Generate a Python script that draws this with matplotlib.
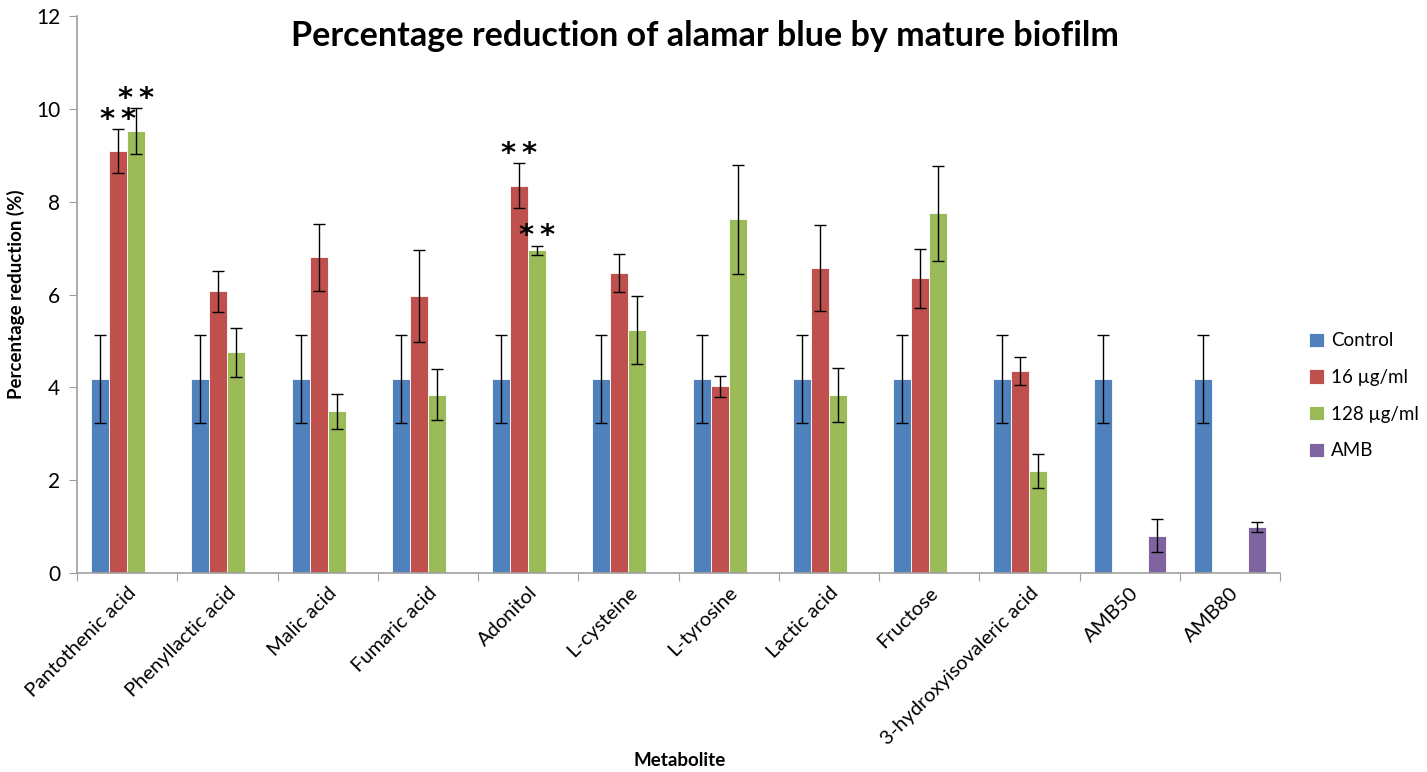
import matplotlib.pyplot as plt
import numpy as np

plt.rcParams['font.family'] = ['Lato', 'DejaVu Sans']

metabolites = ['Pantothenic acid', 'Phenyllactic acid', 'Malic acid', 'Fumaric acid',
               'Adonitol', 'L-cysteine', 'L-tyrosine', 'Lactic acid', 'Fructose',
               '3-hydroxyisovaleric acid', 'AMB50', 'AMB80']

control = [4.17] * 12
control_err = [0.95] * 12

low_dose = [9.09, 6.07, 6.80, 5.97, 8.35, 6.47, 4.02, 6.57, 6.35, 4.35, np.nan, np.nan]
low_err = [0.48, 0.44, 0.73, 1.00, 0.48, 0.41, 0.23, 0.92, 0.64, 0.30, np.nan, np.nan]

high_dose = [9.53, 4.75, 3.48, 3.84, 6.95, 5.23, 7.62, 3.83, 7.75, 2.20, np.nan, np.nan]
high_err = [0.49, 0.52, 0.37, 0.55, 0.10, 0.73, 1.18, 0.58, 1.02, 0.37, np.nan, np.nan]

amb = [np.nan] * 10 + [0.80, 0.99]
amb_err = [np.nan] * 10 + [0.36, 0.11]

# significance marks: (group index, series index)
significant = [(0, 1), (0, 2), (4, 1), (4, 2)]

series = [
    ('Control', control, control_err, '#4F81BD'),
    ('16 µg/ml', low_dose, low_err, '#C0504D'),
    ('128 µg/ml', high_dose, high_err, '#9BBB59'),
    ('AMB', amb, amb_err, '#8064A2'),
]

fig = plt.figure(figsize=(14.27, 7.72), dpi=100)
ax = fig.add_axes([0.054, 0.258, 0.843, 0.721])

x = np.arange(len(metabolites))
width = 0.18
offsets = (np.arange(4) - 1.5) * width

for i, (name, vals, errs, color) in enumerate(series):
    ax.bar(x + offsets[i], vals, width, color=color, edgecolor='white', linewidth=0.6,
           label=name, zorder=2)
    ax.errorbar(x + offsets[i], vals, yerr=errs, fmt='none', ecolor='black',
                elinewidth=1, capsize=4, capthick=1, zorder=3)

for g, s in significant:
    vals, errs = series[s][1], series[s][2]
    ax.text(x[g] + offsets[s], vals[g] + errs[g] - 0.1, '*\u2009*', ha='center',
            va='bottom', fontsize=21, fontweight='bold', family='DejaVu Sans')

ax.set_xlim(-0.5, len(metabolites) - 0.5)
ax.set_ylim(0, 12)
ax.set_yticks(np.arange(0, 13, 2))
ax.set_xticks(np.arange(-0.5, len(metabolites), 1), minor=False)
ax.set_xticklabels([])
ax.set_xticks(x, minor=True)
ax.set_xticklabels(metabolites, minor=True, rotation=45, ha='right',
                   rotation_mode='anchor', fontsize=14.5)
ax.tick_params(axis='x', which='minor', length=0, pad=8)
ax.tick_params(axis='x', which='major', length=6, color='#A0A0A0')
ax.tick_params(axis='y', length=6, color='#A0A0A0', labelsize=15, pad=6)

for side in ['top', 'right']:
    ax.spines[side].set_visible(False)
for side in ['left', 'bottom']:
    ax.spines[side].set_color('#A0A0A0')
    ax.spines[side].set_linewidth(1.2)

fig.text(0.494, 0.953, 'Percentage reduction of alamar blue by mature biofilm',
         ha='center', va='center', fontsize=24.6, fontweight='bold')
ax.set_ylabel('Percentage reduction (%)', fontsize=13.5, fontweight='bold', labelpad=8)
fig.text(0.476, 0.004, 'Metabolite', ha='center', va='bottom', fontsize=13.5,
         fontweight='bold')

handles, labels = ax.get_legend_handles_labels()
ax.legend(handles, labels, loc='center left', bbox_to_anchor=(1.01, 0.318), frameon=False,
          fontsize=13.5, handlelength=0.8, handleheight=0.8, handletextpad=0.4,
          labelspacing=1.05)

fig.savefig('out.png', dpi=100)
